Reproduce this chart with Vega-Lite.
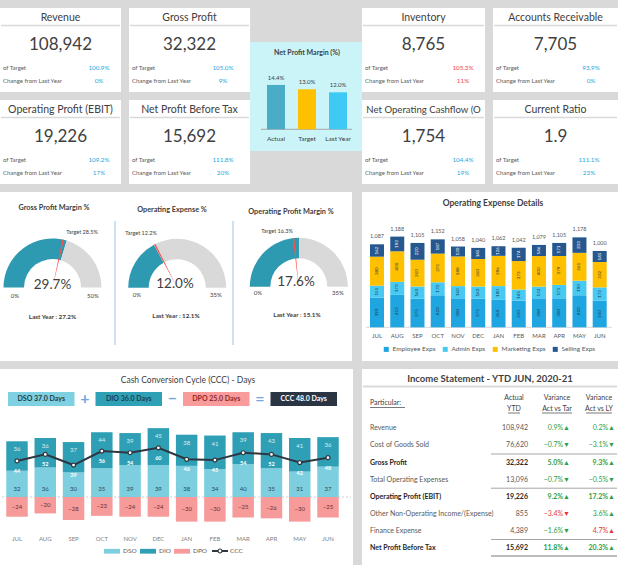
{
  "$schema": "https://vega.github.io/schema/vega-lite/v6.json",
  "background": "#d9d9d9",
  "padding": {"left": 0, "top": 8, "right": 0, "bottom": 0},
  "spacing": 8,
  "config": {
    "font": "Lato",
    "view": {"stroke": null, "fill": "white"},
    "text": {"font": "Lato", "color": "#404040", "baseline": "middle"},
    "axis": {"disable": true},
    "legend": {"labelFont": "Lato"}
  },
  "datasets": {
    "kpis": [
      {"kpi": "Revenue", "value": 108942, "ofTarget": 1.009, "change": 0.0, "targetStatus": "on track", "changeStatus": "on track"},
      {"kpi": "Gross Profit", "value": 32322, "ofTarget": 1.05, "change": 0.09, "targetStatus": "on track", "changeStatus": "on track"},
      {"kpi": "Operating Profit (EBIT)", "value": 19226, "ofTarget": 1.092, "change": 0.17, "targetStatus": "on track", "changeStatus": "on track"},
      {"kpi": "Net Profit Before Tax", "value": 15692, "ofTarget": 1.118, "change": 0.2, "targetStatus": "on track", "changeStatus": "on track"},
      {"kpi": "Inventory", "value": 8765, "ofTarget": 1.053, "change": 0.11, "targetStatus": "off track", "changeStatus": "off track"},
      {"kpi": "Accounts Receivable", "value": 7705, "ofTarget": 0.939, "change": -0.004, "targetStatus": "on track", "changeStatus": "on track"},
      {"kpi": "Net Operating Cashflow (OCF)", "value": 1754, "ofTarget": 1.044, "change": 0.19, "targetStatus": "on track", "changeStatus": "on track"},
      {"kpi": "Current Ratio", "value": 1.9, "ofTarget": 1.111, "change": 0.23, "targetStatus": "on track", "changeStatus": "on track"}
    ]
  },
  "vconcat": [
    {
      "spacing": 0,
      "resolve": {"scale": {"color": "independent"}},
      "hconcat": [
        {
          "spacing": 8,
          "resolve": {"scale": {"color": "independent"}},
          "vconcat": [
            {
              "spacing": 8,
              "resolve": {"scale": {"color": "independent"}},
              "hconcat": [
                {"width": 121, "height": 84, "data": {"name": "kpis"}, "transform": [{"filter": "datum.kpi === 'Revenue'"}], "layer": [
                  {"mark": {"type": "rule", "color": "#d9d9d9", "strokeWidth": 1.5}, "encoding": {"x": {"value": 1}, "x2": {"value": 120}, "y": {"value": 17.5}}},
                  {"mark": {"type": "text", "fontSize": 10.5, "limit": 117, "ellipsis": "\u200b"}, "encoding": {"text": {"field": "kpi", "type": "nominal"}, "y": {"value": 9.5}}},
                  {"mark": {"type": "text", "fontSize": 17}, "encoding": {"text": {"field": "value", "type": "quantitative", "format": ","}, "y": {"value": 37}}},
                  {"mark": {"type": "text", "fontSize": 6, "color": "#595959", "align": "left", "text": "of Target"}, "encoding": {"x": {"value": 3}, "y": {"value": 60}}},
                  {"mark": {"type": "text", "fontSize": 6, "color": "#595959", "align": "left", "text": "Change from Last Year"}, "encoding": {"x": {"value": 3}, "y": {"value": 73}}},
                  {"mark": {"type": "text", "fontSize": 6.3}, "encoding": {"text": {"field": "ofTarget", "type": "quantitative", "format": ".1%"}, "x": {"value": 99}, "y": {"value": 60}, "color": {"field": "targetStatus", "type": "nominal", "scale": {"domain": ["on track", "off track"], "range": ["#1aa9e0", "#f0454a"]}, "legend": null}}},
                  {"mark": {"type": "text", "fontSize": 6.3}, "encoding": {"text": {"field": "change", "type": "quantitative", "format": ".0%"}, "x": {"value": 99}, "y": {"value": 73}, "color": {"field": "changeStatus", "type": "nominal", "scale": {"domain": ["on track", "off track"], "range": ["#1aa9e0", "#f0454a"]}, "legend": null}}}
                ]},
                {"width": 121, "height": 84, "data": {"name": "kpis"}, "transform": [{"filter": "datum.kpi === 'Gross Profit'"}], "layer": [
                  {"mark": {"type": "rule", "color": "#d9d9d9", "strokeWidth": 1.5}, "encoding": {"x": {"value": 1}, "x2": {"value": 120}, "y": {"value": 17.5}}},
                  {"mark": {"type": "text", "fontSize": 10.5, "limit": 117, "ellipsis": "\u200b"}, "encoding": {"text": {"field": "kpi", "type": "nominal"}, "y": {"value": 9.5}}},
                  {"mark": {"type": "text", "fontSize": 17}, "encoding": {"text": {"field": "value", "type": "quantitative", "format": ","}, "y": {"value": 37}}},
                  {"mark": {"type": "text", "fontSize": 6, "color": "#595959", "align": "left", "text": "of Target"}, "encoding": {"x": {"value": 3}, "y": {"value": 60}}},
                  {"mark": {"type": "text", "fontSize": 6, "color": "#595959", "align": "left", "text": "Change from Last Year"}, "encoding": {"x": {"value": 3}, "y": {"value": 73}}},
                  {"mark": {"type": "text", "fontSize": 6.3}, "encoding": {"text": {"field": "ofTarget", "type": "quantitative", "format": ".1%"}, "x": {"value": 94}, "y": {"value": 60}, "color": {"field": "targetStatus", "type": "nominal", "scale": {"domain": ["on track", "off track"], "range": ["#1aa9e0", "#f0454a"]}, "legend": null}}},
                  {"mark": {"type": "text", "fontSize": 6.3}, "encoding": {"text": {"field": "change", "type": "quantitative", "format": ".0%"}, "x": {"value": 94}, "y": {"value": 73}, "color": {"field": "changeStatus", "type": "nominal", "scale": {"domain": ["on track", "off track"], "range": ["#1aa9e0", "#f0454a"]}, "legend": null}}}
                ]}
              ]
            },
            {
              "spacing": 8,
              "resolve": {"scale": {"color": "independent"}},
              "hconcat": [
                {"width": 121, "height": 84, "data": {"name": "kpis"}, "transform": [{"filter": "datum.kpi === 'Operating Profit (EBIT)'"}], "layer": [
                  {"mark": {"type": "rule", "color": "#d9d9d9", "strokeWidth": 1.5}, "encoding": {"x": {"value": 1}, "x2": {"value": 120}, "y": {"value": 17.5}}},
                  {"mark": {"type": "text", "fontSize": 10.5, "limit": 117, "ellipsis": "\u200b"}, "encoding": {"text": {"field": "kpi", "type": "nominal"}, "y": {"value": 9.5}}},
                  {"mark": {"type": "text", "fontSize": 17}, "encoding": {"text": {"field": "value", "type": "quantitative", "format": ","}, "y": {"value": 37}}},
                  {"mark": {"type": "text", "fontSize": 6, "color": "#595959", "align": "left", "text": "of Target"}, "encoding": {"x": {"value": 3}, "y": {"value": 60}}},
                  {"mark": {"type": "text", "fontSize": 6, "color": "#595959", "align": "left", "text": "Change from Last Year"}, "encoding": {"x": {"value": 3}, "y": {"value": 73}}},
                  {"mark": {"type": "text", "fontSize": 6.3}, "encoding": {"text": {"field": "ofTarget", "type": "quantitative", "format": ".1%"}, "x": {"value": 99}, "y": {"value": 60}, "color": {"field": "targetStatus", "type": "nominal", "scale": {"domain": ["on track", "off track"], "range": ["#1aa9e0", "#f0454a"]}, "legend": null}}},
                  {"mark": {"type": "text", "fontSize": 6.3}, "encoding": {"text": {"field": "change", "type": "quantitative", "format": ".0%"}, "x": {"value": 99}, "y": {"value": 73}, "color": {"field": "changeStatus", "type": "nominal", "scale": {"domain": ["on track", "off track"], "range": ["#1aa9e0", "#f0454a"]}, "legend": null}}}
                ]},
                {"width": 121, "height": 84, "data": {"name": "kpis"}, "transform": [{"filter": "datum.kpi === 'Net Profit Before Tax'"}], "layer": [
                  {"mark": {"type": "rule", "color": "#d9d9d9", "strokeWidth": 1.5}, "encoding": {"x": {"value": 1}, "x2": {"value": 120}, "y": {"value": 17.5}}},
                  {"mark": {"type": "text", "fontSize": 10.5, "limit": 117, "ellipsis": "\u200b"}, "encoding": {"text": {"field": "kpi", "type": "nominal"}, "y": {"value": 9.5}}},
                  {"mark": {"type": "text", "fontSize": 17}, "encoding": {"text": {"field": "value", "type": "quantitative", "format": ","}, "y": {"value": 37}}},
                  {"mark": {"type": "text", "fontSize": 6, "color": "#595959", "align": "left", "text": "of Target"}, "encoding": {"x": {"value": 3}, "y": {"value": 60}}},
                  {"mark": {"type": "text", "fontSize": 6, "color": "#595959", "align": "left", "text": "Change from Last Year"}, "encoding": {"x": {"value": 3}, "y": {"value": 73}}},
                  {"mark": {"type": "text", "fontSize": 6.3}, "encoding": {"text": {"field": "ofTarget", "type": "quantitative", "format": ".1%"}, "x": {"value": 94}, "y": {"value": 60}, "color": {"field": "targetStatus", "type": "nominal", "scale": {"domain": ["on track", "off track"], "range": ["#1aa9e0", "#f0454a"]}, "legend": null}}},
                  {"mark": {"type": "text", "fontSize": 6.3}, "encoding": {"text": {"field": "change", "type": "quantitative", "format": ".0%"}, "x": {"value": 94}, "y": {"value": 73}, "color": {"field": "changeStatus", "type": "nominal", "scale": {"domain": ["on track", "off track"], "range": ["#1aa9e0", "#f0454a"]}, "legend": null}}}
                ]}
              ]
            }
          ]
        },
        {
          "width": 112,
          "height": 176,
          "view": {"fill": "transparent"},
          "data": {"values": [
            {"measure": "Actual", "margin": 0.144},
            {"measure": "Target", "margin": 0.13},
            {"measure": "Last Year", "margin": 0.12}
          ]},
          "layer": [
            {
              "data": {"values": [{"chart": "Net Profit Margin (%)"}]},
              "layer": [
                {"mark": {"type": "rect", "color": "#cbf4f8"}, "encoding": {"y": {"datum": 0.2834, "type": "quantitative", "scale": {"domain": [-0.1776, 0.3938], "nice": false, "zero": false}}, "y2": {"datum": -0.0705}}},
                {"mark": {"type": "text", "fontSize": 7, "fontWeight": "bold"}, "encoding": {"text": {"field": "chart"}, "x": {"datum": "Target", "type": "nominal", "scale": {"type": "point", "domain": ["Actual", "Target", "Last Year"], "range": [26, 88], "padding": 0}}, "y": {"datum": 0.2468, "type": "quantitative", "scale": {"domain": [-0.1776, 0.3938], "nice": false, "zero": false}}}},
                {"mark": {"type": "rule", "color": "#a6a6a6", "xOffset": -15, "x2Offset": 14}, "encoding": {"x": {"datum": "Actual", "type": "nominal", "scale": {"type": "point", "domain": ["Actual", "Target", "Last Year"], "range": [26, 88], "padding": 0}}, "x2": {"datum": "Last Year"}, "y": {"datum": 0, "type": "quantitative", "scale": {"domain": [-0.1776, 0.3938], "nice": false, "zero": false}}}}
              ]
            },
            {"mark": {"type": "bar", "width": 18}, "encoding": {
              "x": {"field": "measure", "type": "nominal", "scale": {"type": "point", "domain": ["Actual", "Target", "Last Year"], "range": [26, 88], "padding": 0}},
              "y": {"field": "margin", "type": "quantitative", "scale": {"domain": [-0.1776, 0.3938], "nice": false, "zero": false}},
              "color": {"field": "measure", "type": "nominal", "scale": {"domain": ["Actual", "Target", "Last Year"], "range": ["#4aacc5", "#ffc000", "#3fc9f5"]}, "legend": null}
            }},
            {"mark": {"type": "text", "fontSize": 6, "dy": -7}, "encoding": {
              "x": {"field": "measure", "type": "nominal", "scale": {"type": "point", "domain": ["Actual", "Target", "Last Year"], "range": [26, 88], "padding": 0}},
              "y": {"field": "margin", "type": "quantitative", "scale": {"domain": [-0.1776, 0.3938], "nice": false, "zero": false}},
              "text": {"field": "margin", "type": "quantitative", "format": ".1%"}
            }},
            {"mark": {"type": "text", "fontSize": 6.5}, "encoding": {
              "x": {"field": "measure", "type": "nominal", "scale": {"type": "point", "domain": ["Actual", "Target", "Last Year"], "range": [26, 88], "padding": 0}},
              "y": {"datum": -0.0315, "type": "quantitative", "scale": {"domain": [-0.1776, 0.3938], "nice": false, "zero": false}},
              "text": {"field": "measure", "type": "nominal"}
            }}
          ]
        },
        {
          "spacing": 8,
          "resolve": {"scale": {"color": "independent"}},
          "vconcat": [
            {
              "spacing": 8,
              "resolve": {"scale": {"color": "independent"}},
              "hconcat": [
                {"width": 123, "height": 84, "data": {"name": "kpis"}, "transform": [{"filter": "datum.kpi === 'Inventory'"}], "layer": [
                  {"mark": {"type": "rule", "color": "#d9d9d9", "strokeWidth": 1.5}, "encoding": {"x": {"value": 1}, "x2": {"value": 122}, "y": {"value": 17.5}}},
                  {"mark": {"type": "text", "fontSize": 10.5, "limit": 119, "ellipsis": "\u200b"}, "encoding": {"text": {"field": "kpi", "type": "nominal"}, "y": {"value": 9.5}}},
                  {"mark": {"type": "text", "fontSize": 17}, "encoding": {"text": {"field": "value", "type": "quantitative", "format": ","}, "y": {"value": 37}}},
                  {"mark": {"type": "text", "fontSize": 6, "color": "#595959", "align": "left", "text": "of Target"}, "encoding": {"x": {"value": 3}, "y": {"value": 60}}},
                  {"mark": {"type": "text", "fontSize": 6, "color": "#595959", "align": "left", "text": "Change from Last Year"}, "encoding": {"x": {"value": 3}, "y": {"value": 73}}},
                  {"mark": {"type": "text", "fontSize": 6.3}, "encoding": {"text": {"field": "ofTarget", "type": "quantitative", "format": ".1%"}, "x": {"value": 101}, "y": {"value": 60}, "color": {"field": "targetStatus", "type": "nominal", "scale": {"domain": ["on track", "off track"], "range": ["#1aa9e0", "#f0454a"]}, "legend": null}}},
                  {"mark": {"type": "text", "fontSize": 6.3}, "encoding": {"text": {"field": "change", "type": "quantitative", "format": ".0%"}, "x": {"value": 101}, "y": {"value": 73}, "color": {"field": "changeStatus", "type": "nominal", "scale": {"domain": ["on track", "off track"], "range": ["#1aa9e0", "#f0454a"]}, "legend": null}}}
                ]},
                {"width": 125, "height": 84, "data": {"name": "kpis"}, "transform": [{"filter": "datum.kpi === 'Accounts Receivable'"}], "layer": [
                  {"mark": {"type": "rule", "color": "#d9d9d9", "strokeWidth": 1.5}, "encoding": {"x": {"value": 1}, "x2": {"value": 124}, "y": {"value": 17.5}}},
                  {"mark": {"type": "text", "fontSize": 10.5, "limit": 121, "ellipsis": "\u200b"}, "encoding": {"text": {"field": "kpi", "type": "nominal"}, "y": {"value": 9.5}}},
                  {"mark": {"type": "text", "fontSize": 17}, "encoding": {"text": {"field": "value", "type": "quantitative", "format": ","}, "y": {"value": 37}}},
                  {"mark": {"type": "text", "fontSize": 6, "color": "#595959", "align": "left", "text": "of Target"}, "encoding": {"x": {"value": 3}, "y": {"value": 60}}},
                  {"mark": {"type": "text", "fontSize": 6, "color": "#595959", "align": "left", "text": "Change from Last Year"}, "encoding": {"x": {"value": 3}, "y": {"value": 73}}},
                  {"mark": {"type": "text", "fontSize": 6.3}, "encoding": {"text": {"field": "ofTarget", "type": "quantitative", "format": ".1%"}, "x": {"value": 98}, "y": {"value": 60}, "color": {"field": "targetStatus", "type": "nominal", "scale": {"domain": ["on track", "off track"], "range": ["#1aa9e0", "#f0454a"]}, "legend": null}}},
                  {"mark": {"type": "text", "fontSize": 6.3}, "encoding": {"text": {"field": "change", "type": "quantitative", "format": ".0%"}, "x": {"value": 98}, "y": {"value": 73}, "color": {"field": "changeStatus", "type": "nominal", "scale": {"domain": ["on track", "off track"], "range": ["#1aa9e0", "#f0454a"]}, "legend": null}}}
                ]}
              ]
            },
            {
              "spacing": 8,
              "resolve": {"scale": {"color": "independent"}},
              "hconcat": [
                {"width": 123, "height": 84, "data": {"name": "kpis"}, "transform": [{"filter": "datum.kpi === 'Net Operating Cashflow (OCF)'"}], "layer": [
                  {"mark": {"type": "rule", "color": "#d9d9d9", "strokeWidth": 1.5}, "encoding": {"x": {"value": 1}, "x2": {"value": 122}, "y": {"value": 17.5}}},
                  {"mark": {"type": "text", "fontSize": 9.6, "limit": 121, "ellipsis": "\u200b"}, "encoding": {"text": {"field": "kpi", "type": "nominal"}, "y": {"value": 9.5}}},
                  {"mark": {"type": "text", "fontSize": 17}, "encoding": {"text": {"field": "value", "type": "quantitative", "format": ","}, "y": {"value": 37}}},
                  {"mark": {"type": "text", "fontSize": 6, "color": "#595959", "align": "left", "text": "of Target"}, "encoding": {"x": {"value": 3}, "y": {"value": 60}}},
                  {"mark": {"type": "text", "fontSize": 6, "color": "#595959", "align": "left", "text": "Change from Last Year"}, "encoding": {"x": {"value": 3}, "y": {"value": 73}}},
                  {"mark": {"type": "text", "fontSize": 6.3}, "encoding": {"text": {"field": "ofTarget", "type": "quantitative", "format": ".1%"}, "x": {"value": 101}, "y": {"value": 60}, "color": {"field": "targetStatus", "type": "nominal", "scale": {"domain": ["on track", "off track"], "range": ["#1aa9e0", "#f0454a"]}, "legend": null}}},
                  {"mark": {"type": "text", "fontSize": 6.3}, "encoding": {"text": {"field": "change", "type": "quantitative", "format": ".0%"}, "x": {"value": 101}, "y": {"value": 73}, "color": {"field": "changeStatus", "type": "nominal", "scale": {"domain": ["on track", "off track"], "range": ["#1aa9e0", "#f0454a"]}, "legend": null}}}
                ]},
                {"width": 125, "height": 84, "data": {"name": "kpis"}, "transform": [{"filter": "datum.kpi === 'Current Ratio'"}], "layer": [
                  {"mark": {"type": "rule", "color": "#d9d9d9", "strokeWidth": 1.5}, "encoding": {"x": {"value": 1}, "x2": {"value": 124}, "y": {"value": 17.5}}},
                  {"mark": {"type": "text", "fontSize": 10.5, "limit": 121, "ellipsis": "\u200b"}, "encoding": {"text": {"field": "kpi", "type": "nominal"}, "y": {"value": 9.5}}},
                  {"mark": {"type": "text", "fontSize": 17}, "encoding": {"text": {"field": "value", "type": "quantitative", "format": ","}, "y": {"value": 37}}},
                  {"mark": {"type": "text", "fontSize": 6, "color": "#595959", "align": "left", "text": "of Target"}, "encoding": {"x": {"value": 3}, "y": {"value": 60}}},
                  {"mark": {"type": "text", "fontSize": 6, "color": "#595959", "align": "left", "text": "Change from Last Year"}, "encoding": {"x": {"value": 3}, "y": {"value": 73}}},
                  {"mark": {"type": "text", "fontSize": 6.3}, "encoding": {"text": {"field": "ofTarget", "type": "quantitative", "format": ".1%"}, "x": {"value": 96}, "y": {"value": 60}, "color": {"field": "targetStatus", "type": "nominal", "scale": {"domain": ["on track", "off track"], "range": ["#1aa9e0", "#f0454a"]}, "legend": null}}},
                  {"mark": {"type": "text", "fontSize": 6.3}, "encoding": {"text": {"field": "change", "type": "quantitative", "format": ".0%"}, "x": {"value": 96}, "y": {"value": 73}, "color": {"field": "changeStatus", "type": "nominal", "scale": {"domain": ["on track", "off track"], "range": ["#1aa9e0", "#f0454a"]}, "legend": null}}}
                ]}
              ]
            }
          ]
        }
      ]
    },
    {
      "spacing": 10,
      "resolve": {"scale": {"color": "independent", "fill": "independent"}},
      "hconcat": [
        {
          "spacing": 0,
          "resolve": {"scale": {"color": "independent", "fill": "independent"}},
          "hconcat": [
            {
              "width": 117,
              "height": 169,
              "data": {"values": [{"metric": "Gross Profit Margin %", "actual": 0.297, "target": 0.285, "lastYear": 0.272, "max": 0.5}]},
              "layer": [
                {
                  "data": {"values": [{"part": "actual", "share": 0.297}, {"part": "remaining", "share": 0.203}]},
                  "mark": {"type": "arc", "x": 52.5, "y": 95.5, "innerRadius": 28.5, "outerRadius": 49},
                  "encoding": {
                    "theta": {"field": "share", "type": "quantitative", "stack": "zero", "scale": {"domain": [0, 0.5], "range": [-1.5708, 1.5708]}},
                    "color": {"field": "part", "type": "nominal", "scale": {"domain": ["actual", "remaining"], "range": ["#2e9ab2", "#d9d9d9"]}, "legend": null},
                    "order": {"field": "part", "type": "nominal", "sort": "ascending"}
                  }
                },
                {
                  "data": {"values": [{"part": "lead", "share": 0.2825}, {"part": "needle", "share": 0.005}, {"part": "tail", "share": 0.2125}]},
                  "mark": {"type": "arc", "x": 52.5, "y": 95.5, "innerRadius": 0, "outerRadius": 49},
                  "encoding": {
                    "theta": {"field": "share", "type": "quantitative", "stack": "zero", "scale": {"domain": [0, 0.5], "range": [-1.5708, 1.5708]}},
                    "fill": {"field": "part", "type": "nominal", "scale": {"domain": ["lead", "needle", "tail"], "range": ["transparent", "#ff5050", "transparent"]}, "legend": null},
                    "order": {"field": "part", "type": "nominal", "sort": "ascending"}
                  }
                },
                {"mark": {"type": "text", "fontSize": 7.3, "fontWeight": "bold"}, "encoding": {"text": {"field": "metric"}, "x": {"value": 54}, "y": {"value": 16}}},
                {"mark": {"type": "text", "fontSize": 13.5}, "encoding": {"text": {"field": "actual", "type": "quantitative", "format": ".1%"}, "x": {"value": 52.5}, "y": {"value": 93}}},
                {"mark": {"type": "text", "fontSize": 6, "text": "0%"}, "encoding": {"x": {"value": 15}, "y": {"value": 104}}},
                {"mark": {"type": "text", "fontSize": 6}, "encoding": {"text": {"field": "max", "type": "quantitative", "format": ".0%"}, "x": {"value": 93}, "y": {"value": 104}}},
                {"mark": {"type": "text", "fontSize": 5.5, "text": {"expr": "'Target ' + format(datum.target, '.1%')"}}, "encoding": {"x": {"value": 82}, "y": {"value": 40}}},
                {"mark": {"type": "text", "fontSize": 6.3, "fontWeight": "bold", "text": {"expr": "'Last Year : ' + format(datum.lastYear, '.1%')"}}, "encoding": {"x": {"value": 52.5}, "y": {"value": 125}}},
                {"mark": {"type": "rule", "color": "#9dc3e6"}, "encoding": {"x": {"value": 115}, "y": {"value": 29}, "y2": {"value": 153}}}
              ]
            },
            {
              "width": 118,
              "height": 169,
              "data": {"values": [{"metric": "Operating Expense %", "actual": 0.12, "target": 0.122, "lastYear": 0.121, "max": 0.35}]},
              "layer": [
                {
                  "data": {"values": [{"part": "actual", "share": 0.12}, {"part": "remaining", "share": 0.23}]},
                  "mark": {"type": "arc", "x": 60.2, "y": 95.8, "innerRadius": 28.5, "outerRadius": 49},
                  "encoding": {
                    "theta": {"field": "share", "type": "quantitative", "stack": "zero", "scale": {"domain": [0, 0.35], "range": [-1.5708, 1.5708]}},
                    "color": {"field": "part", "type": "nominal", "scale": {"domain": ["actual", "remaining"], "range": ["#2e9ab2", "#d9d9d9"]}, "legend": null},
                    "order": {"field": "part", "type": "nominal", "sort": "ascending"}
                  }
                },
                {
                  "data": {"values": [{"part": "lead", "share": 0.12025}, {"part": "needle", "share": 0.0035}, {"part": "tail", "share": 0.22625}]},
                  "mark": {"type": "arc", "x": 60.2, "y": 95.8, "innerRadius": 0, "outerRadius": 49},
                  "encoding": {
                    "theta": {"field": "share", "type": "quantitative", "stack": "zero", "scale": {"domain": [0, 0.35], "range": [-1.5708, 1.5708]}},
                    "fill": {"field": "part", "type": "nominal", "scale": {"domain": ["lead", "needle", "tail"], "range": ["transparent", "#ff5050", "transparent"]}, "legend": null},
                    "order": {"field": "part", "type": "nominal", "sort": "ascending"}
                  }
                },
                {"mark": {"type": "text", "fontSize": 7.3, "fontWeight": "bold"}, "encoding": {"text": {"field": "metric"}, "x": {"value": 55}, "y": {"value": 18}}},
                {"mark": {"type": "text", "fontSize": 13.5}, "encoding": {"text": {"field": "actual", "type": "quantitative", "format": ".1%"}, "x": {"value": 58}, "y": {"value": 92}}},
                {"mark": {"type": "text", "fontSize": 6, "text": "0%"}, "encoding": {"x": {"value": 20}, "y": {"value": 103}}},
                {"mark": {"type": "text", "fontSize": 6}, "encoding": {"text": {"field": "max", "type": "quantitative", "format": ".0%"}, "x": {"value": 99}, "y": {"value": 103}}},
                {"mark": {"type": "text", "fontSize": 5.5, "text": {"expr": "'Target ' + format(datum.target, '.1%')"}}, "encoding": {"x": {"value": 24}, "y": {"value": 41}}},
                {"mark": {"type": "text", "fontSize": 6.3, "fontWeight": "bold", "text": {"expr": "'Last Year : ' + format(datum.lastYear, '.1%')"}}, "encoding": {"x": {"value": 59}, "y": {"value": 124}}},
                {"mark": {"type": "rule", "color": "#9dc3e6"}, "encoding": {"x": {"value": 116}, "y": {"value": 29}, "y2": {"value": 153}}}
              ]
            },
            {
              "width": 117,
              "height": 169,
              "data": {"values": [{"metric": "Operating Profit Margin %", "actual": 0.176, "target": 0.163, "lastYear": 0.151, "max": 0.35}]},
              "layer": [
                {
                  "data": {"values": [{"part": "actual", "share": 0.176}, {"part": "remaining", "share": 0.174}]},
                  "mark": {"type": "arc", "x": 63.8, "y": 94.8, "innerRadius": 28.5, "outerRadius": 49},
                  "encoding": {
                    "theta": {"field": "share", "type": "quantitative", "stack": "zero", "scale": {"domain": [0, 0.35], "range": [-1.5708, 1.5708]}},
                    "color": {"field": "part", "type": "nominal", "scale": {"domain": ["actual", "remaining"], "range": ["#2e9ab2", "#d9d9d9"]}, "legend": null},
                    "order": {"field": "part", "type": "nominal", "sort": "ascending"}
                  }
                },
                {
                  "data": {"values": [{"part": "lead", "share": 0.16125}, {"part": "needle", "share": 0.0035}, {"part": "tail", "share": 0.18525}]},
                  "mark": {"type": "arc", "x": 63.8, "y": 94.8, "innerRadius": 0, "outerRadius": 49},
                  "encoding": {
                    "theta": {"field": "share", "type": "quantitative", "stack": "zero", "scale": {"domain": [0, 0.35], "range": [-1.5708, 1.5708]}},
                    "fill": {"field": "part", "type": "nominal", "scale": {"domain": ["lead", "needle", "tail"], "range": ["transparent", "#ff5050", "transparent"]}, "legend": null},
                    "order": {"field": "part", "type": "nominal", "sort": "ascending"}
                  }
                },
                {"mark": {"type": "text", "fontSize": 7.3, "fontWeight": "bold"}, "encoding": {"text": {"field": "metric"}, "x": {"value": 56}, "y": {"value": 20}}},
                {"mark": {"type": "text", "fontSize": 13.5}, "encoding": {"text": {"field": "actual", "type": "quantitative", "format": ".1%"}, "x": {"value": 61}, "y": {"value": 90}}},
                {"mark": {"type": "text", "fontSize": 6, "text": "0%"}, "encoding": {"x": {"value": 23}, "y": {"value": 101}}},
                {"mark": {"type": "text", "fontSize": 6}, "encoding": {"text": {"field": "max", "type": "quantitative", "format": ".0%"}, "x": {"value": 103}, "y": {"value": 101}}},
                {"mark": {"type": "text", "fontSize": 5.5, "text": {"expr": "'Target ' + format(datum.target, '.1%')"}}, "encoding": {"x": {"value": 42}, "y": {"value": 39}}},
                {"mark": {"type": "text", "fontSize": 6.3, "fontWeight": "bold", "text": {"expr": "'Last Year : ' + format(datum.lastYear, '.1%')"}}, "encoding": {"x": {"value": 62}, "y": {"value": 123}}}
              ]
            }
          ]
        },
        {
          "width": 256,
          "height": 169,
          "data": {"values": [
            {"month": "JUL", "Employee Exps": 390, "Admin Exps": 155, "Marketing Exps": 380, "Selling Exps": 162},
            {"month": "AUG", "Employee Exps": 425, "Admin Exps": 170, "Marketing Exps": 400, "Selling Exps": 193},
            {"month": "SEP", "Employee Exps": 375, "Admin Exps": 160, "Marketing Exps": 350, "Selling Exps": 220},
            {"month": "OCT", "Employee Exps": 420, "Admin Exps": 170, "Marketing Exps": 375, "Selling Exps": 187},
            {"month": "NOV", "Employee Exps": 380, "Admin Exps": 160, "Marketing Exps": 388, "Selling Exps": 130},
            {"month": "DEC", "Employee Exps": 375, "Admin Exps": 160, "Marketing Exps": 360, "Selling Exps": 145},
            {"month": "JAN", "Employee Exps": 360, "Admin Exps": 180, "Marketing Exps": 396, "Selling Exps": 126},
            {"month": "FEB", "Employee Exps": 350, "Admin Exps": 145, "Marketing Exps": 373, "Selling Exps": 174},
            {"month": "MAR", "Employee Exps": 380, "Admin Exps": 153, "Marketing Exps": 400, "Selling Exps": 146},
            {"month": "APR", "Employee Exps": 380, "Admin Exps": 175, "Marketing Exps": 379, "Selling Exps": 171},
            {"month": "MAY", "Employee Exps": 420, "Admin Exps": 190, "Marketing Exps": 365, "Selling Exps": 203},
            {"month": "JUN", "Employee Exps": 350, "Admin Exps": 173, "Marketing Exps": 332, "Selling Exps": 145}
          ]},
          "layer": [
            {
              "data": {"values": [{"chart": "Operating Expense Details"}]},
              "layer": [
                {"mark": {"type": "rule", "color": "#d9d9d9"}, "encoding": {"x": {"value": 4}, "x2": {"value": 250}, "y": {"datum": 0, "type": "quantitative", "scale": {"domain": [-441, 1772], "nice": false, "zero": false}}}},
                {"mark": {"type": "text", "fontSize": 8.5, "fontWeight": "bold"}, "encoding": {"text": {"field": "chart"}, "x": {"value": 131}, "y": {"datum": 1628, "type": "quantitative", "scale": {"domain": [-441, 1772], "nice": false, "zero": false}}}}
              ]
            },
            {
              "transform": [
                {"fold": ["Employee Exps", "Admin Exps", "Marketing Exps", "Selling Exps"], "as": ["expense", "amount"]},
                {"window": [{"op": "row_number", "as": "rank"}], "groupby": ["month"]}
              ],
              "mark": {"type": "bar", "width": 14},
              "encoding": {
                "x": {"field": "month", "type": "nominal", "scale": {"type": "point", "domain": ["JUL", "AUG", "SEP", "OCT", "NOV", "DEC", "JAN", "FEB", "MAR", "APR", "MAY", "JUN"], "range": [15, 237.7], "padding": 0}},
                "y": {"field": "amount", "type": "quantitative", "stack": "zero", "scale": {"domain": [-441, 1772], "nice": false, "zero": false}},
                "color": {"field": "expense", "type": "nominal", "scale": {"domain": ["Employee Exps", "Admin Exps", "Marketing Exps", "Selling Exps"], "range": ["#1fa5e0", "#48c9f2", "#ffc000", "#26588f"]},
                  "legend": {"title": null, "orient": "none", "legendX": 21, "legendY": 154, "direction": "horizontal", "symbolType": "square", "symbolSize": 25, "symbolStrokeWidth": 0, "labelFontSize": 6.5, "labelColor": "#595959", "labelOffset": 3, "columnPadding": 6, "padding": 0}},
                "order": {"field": "rank", "type": "quantitative"}
              }
            },
            {
              "transform": [
                {"fold": ["Employee Exps", "Admin Exps", "Marketing Exps", "Selling Exps"], "as": ["expense", "amount"]},
                {"window": [{"op": "row_number", "as": "rank"}], "groupby": ["month"]}
              ],
              "mark": {"type": "text", "angle": 270, "fontSize": 4.5},
              "encoding": {
                "x": {"field": "month", "type": "nominal", "scale": {"type": "point", "domain": ["JUL", "AUG", "SEP", "OCT", "NOV", "DEC", "JAN", "FEB", "MAR", "APR", "MAY", "JUN"], "range": [15, 237.7], "padding": 0}},
                "y": {"field": "amount", "type": "quantitative", "stack": "zero", "bandPosition": 0.5, "scale": {"domain": [-441, 1772], "nice": false, "zero": false}},
                "detail": {"field": "expense", "type": "nominal"},
                "order": {"field": "rank", "type": "quantitative"},
                "text": {"field": "amount", "type": "quantitative"},
                "color": {"condition": {"test": "datum.expense === 'Selling Exps'", "value": "#ffffff"}, "value": "#1e3550"}
              }
            },
            {
              "transform": [
                {"fold": ["Employee Exps", "Admin Exps", "Marketing Exps", "Selling Exps"], "as": ["expense", "amount"]}
              ],
              "mark": {"type": "text", "fontSize": 5.5, "color": "#595959", "dy": -8},
              "encoding": {
                "x": {"field": "month", "type": "nominal", "scale": {"type": "point", "domain": ["JUL", "AUG", "SEP", "OCT", "NOV", "DEC", "JAN", "FEB", "MAR", "APR", "MAY", "JUN"], "range": [15, 237.7], "padding": 0}},
                "y": {"aggregate": "sum", "field": "amount", "type": "quantitative", "scale": {"domain": [-441, 1772], "nice": false, "zero": false}},
                "text": {"aggregate": "sum", "field": "amount", "type": "quantitative", "format": ","}
              }
            },
            {
              "mark": {"type": "text", "fontSize": 6, "color": "#595959"},
              "encoding": {
                "x": {"field": "month", "type": "nominal", "scale": {"type": "point", "domain": ["JUL", "AUG", "SEP", "OCT", "NOV", "DEC", "JAN", "FEB", "MAR", "APR", "MAY", "JUN"], "range": [15, 237.7], "padding": 0}},
                "y": {"datum": -114, "type": "quantitative", "scale": {"domain": [-441, 1772], "nice": false, "zero": false}},
                "text": {"field": "month", "type": "nominal"}
              }
            }
          ]
        }
      ]
    },
    {
      "spacing": 9,
      "resolve": {"scale": {"color": "independent", "fill": "independent"}},
      "hconcat": [
        {
          "spacing": 0,
          "resolve": {"scale": {"color": "independent", "fill": "independent"}},
          "vconcat": [
            {
              "width": 353,
              "height": 42,
              "data": {"values": [
                {"metric": "DSO", "days": 37},
                {"metric": "DIO", "days": 36},
                {"metric": "DPO", "days": 25},
                {"metric": "CCC", "days": 48}
              ]},
              "layer": [
                {"data": {"values": [{"chart": "Cash Conversion Cycle (CCC) - Days"}]}, "mark": {"type": "text", "fontSize": 8.5}, "encoding": {"text": {"field": "chart"}, "x": {"value": 188}, "y": {"value": 11}}},
                {"mark": {"type": "rect"}, "encoding": {
                  "x": {"field": "metric", "type": "nominal", "scale": {"type": "band", "domain": ["DSO", "DIO", "DPO", "CCC"], "range": [8, 337], "paddingInner": 0.24, "paddingOuter": 0}},
                  "y": {"value": 23}, "y2": {"value": 37},
                  "fill": {"field": "metric", "type": "nominal", "scale": {"domain": ["DSO", "DIO", "DPO", "CCC"], "range": ["#7fd0e0", "#2fa1b6", "#f99b9b", "#2a3443"]}, "legend": null}
                }},
                {"mark": {"type": "text", "fontSize": 7, "fontWeight": "bold", "text": {"expr": "datum.metric + ' ' + format(datum.days, '.1f') + ' Days'"}}, "encoding": {
                  "x": {"field": "metric", "type": "nominal", "scale": {"type": "band", "domain": ["DSO", "DIO", "DPO", "CCC"], "range": [8, 337], "paddingInner": 0.24, "paddingOuter": 0}},
                  "y": {"value": 30},
                  "color": {"field": "metric", "type": "nominal", "scale": {"domain": ["DSO", "DIO", "DPO", "CCC"], "range": ["#1f3d4d", "#1f3d4d", "#8e2a2a", "#ffffff"]}, "legend": null}
                }},
                {
                  "data": {"values": [
                    {"after": "DSO", "sign": "+"},
                    {"after": "DIO", "sign": "−"},
                    {"after": "DPO", "sign": "="}
                  ]},
                  "mark": {"type": "text", "fontSize": 16, "fontWeight": "bold", "color": "#6fa8dc"},
                  "encoding": {
                    "x": {"field": "after", "type": "nominal", "bandPosition": 1.158, "scale": {"type": "band", "domain": ["DSO", "DIO", "DPO", "CCC"], "range": [8, 337], "paddingInner": 0.24, "paddingOuter": 0}},
                    "y": {"value": 30},
                    "text": {"field": "sign", "type": "nominal"}
                  }
                }
              ]
            },
            {
              "width": 353,
              "height": 154,
              "data": {"values": [
                {"month": "JUL", "DSO": 32, "DIO": 36, "DPO": -24, "CCC": 44},
                {"month": "AUG", "DSO": 36, "DIO": 36, "DPO": -20, "CCC": 52},
                {"month": "SEP", "DSO": 30, "DIO": 37, "DPO": -28, "CCC": 39},
                {"month": "OCT", "DSO": 35, "DIO": 44, "DPO": -23, "CCC": 56},
                {"month": "NOV", "DSO": 39, "DIO": 39, "DPO": -24, "CCC": 54},
                {"month": "DEC", "DSO": 39, "DIO": 45, "DPO": -24, "CCC": 60},
                {"month": "JAN", "DSO": 38, "DIO": 38, "DPO": -30, "CCC": 46},
                {"month": "FEB", "DSO": 34, "DIO": 41, "DPO": -30, "CCC": 45},
                {"month": "MAR", "DSO": 40, "DIO": 39, "DPO": -25, "CCC": 54},
                {"month": "APR", "DSO": 35, "DIO": 43, "DPO": -26, "CCC": 52},
                {"month": "MAY", "DSO": 31, "DIO": 41, "DPO": -30, "CCC": 42},
                {"month": "JUN", "DSO": 37, "DIO": 36, "DPO": -25, "CCC": 48}
              ]},
              "layer": [
                {"data": {"values": [{"baseline": 0}]}, "mark": {"type": "rule", "color": "#cfcfcf", "strokeDash": [2, 2]}, "encoding": {"x": {"value": 2}, "x2": {"value": 351}, "y": {"field": "baseline", "type": "quantitative", "scale": {"domain": [-82.9, 104.9], "nice": false, "zero": false}}}},
                {
                  "transform": [{"fold": ["DSO", "DIO", "DPO"], "as": ["part", "days"]}],
                  "mark": {"type": "bar", "width": 21.5},
                  "encoding": {
                    "x": {"field": "month", "type": "nominal", "scale": {"type": "point", "domain": ["JUL", "AUG", "SEP", "OCT", "NOV", "DEC", "JAN", "FEB", "MAR", "APR", "MAY", "JUN"], "range": [17, 328], "padding": 0}},
                    "y": {"field": "days", "type": "quantitative", "stack": "zero", "scale": {"domain": [-82.9, 104.9], "nice": false, "zero": false}},
                    "color": {"field": "part", "type": "nominal", "scale": {"domain": ["DSO", "DIO", "DPO"], "range": ["#7dcfe0", "#2f9fb5", "#f79a9a"]},
                      "legend": {"title": null, "orient": "none", "legendX": 104, "legendY": 132, "direction": "horizontal", "symbolType": "M-1,-0.3H1V0.3H-1Z", "symbolSize": 256, "symbolStrokeWidth": 0, "labelFontSize": 6.5, "labelColor": "#595959", "labelOffset": 3, "columnPadding": 3, "padding": 0}},
                    "order": {"field": "part", "type": "nominal", "sort": "descending"}
                  }
                },
                {
                  "mark": {"type": "text", "fontSize": 6, "color": "#2b4a5a", "dy": -8},
                  "encoding": {
                    "x": {"field": "month", "type": "nominal", "scale": {"type": "point", "domain": ["JUL", "AUG", "SEP", "OCT", "NOV", "DEC", "JAN", "FEB", "MAR", "APR", "MAY", "JUN"], "range": [17, 328], "padding": 0}},
                    "y": {"datum": 0, "type": "quantitative", "scale": {"domain": [-82.9, 104.9], "nice": false, "zero": false}},
                    "text": {"field": "DSO", "type": "quantitative"}
                  }
                },
                {
                  "transform": [{"fold": ["DSO", "DIO"], "as": ["part", "days"]}],
                  "mark": {"type": "text", "fontSize": 6, "color": "#d9edf2", "dy": 8},
                  "encoding": {
                    "x": {"field": "month", "type": "nominal", "scale": {"type": "point", "domain": ["JUL", "AUG", "SEP", "OCT", "NOV", "DEC", "JAN", "FEB", "MAR", "APR", "MAY", "JUN"], "range": [17, 328], "padding": 0}},
                    "y": {"field": "days", "type": "quantitative", "stack": "zero", "scale": {"domain": [-82.9, 104.9], "nice": false, "zero": false}},
                    "detail": {"field": "part", "type": "nominal"},
                    "order": {"field": "part", "type": "nominal", "sort": "descending"},
                    "text": {"condition": {"test": "datum.part === 'DIO'", "field": "days", "type": "quantitative"}, "value": ""}
                  }
                },
                {
                  "transform": [{"fold": ["DPO"], "as": ["part", "days"]}],
                  "mark": {"type": "text", "fontSize": 6, "color": "#6b3333"},
                  "encoding": {
                    "x": {"field": "month", "type": "nominal", "scale": {"type": "point", "domain": ["JUL", "AUG", "SEP", "OCT", "NOV", "DEC", "JAN", "FEB", "MAR", "APR", "MAY", "JUN"], "range": [17, 328], "padding": 0}},
                    "y": {"field": "days", "type": "quantitative", "stack": "zero", "bandPosition": 0.5, "scale": {"domain": [-82.9, 104.9], "nice": false, "zero": false}},
                    "detail": {"field": "part", "type": "nominal"},
                    "text": {"field": "days", "type": "quantitative"}
                  }
                },
                {
                  "mark": {"type": "line", "strokeWidth": 2, "color": "#2f3640"},
                  "encoding": {
                    "x": {"field": "month", "type": "nominal", "scale": {"type": "point", "domain": ["JUL", "AUG", "SEP", "OCT", "NOV", "DEC", "JAN", "FEB", "MAR", "APR", "MAY", "JUN"], "range": [17, 328], "padding": 0}},
                    "y": {"field": "CCC", "type": "quantitative", "scale": {"domain": [-82.9, 104.9], "nice": false, "zero": false}}
                  }
                },
                {
                  "mark": {"type": "point", "filled": true, "fill": "#ffffff", "stroke": "#2f3640", "size": 16, "strokeWidth": 1.2, "opacity": 1},
                  "encoding": {
                    "x": {"field": "month", "type": "nominal", "scale": {"type": "point", "domain": ["JUL", "AUG", "SEP", "OCT", "NOV", "DEC", "JAN", "FEB", "MAR", "APR", "MAY", "JUN"], "range": [17, 328], "padding": 0}},
                    "y": {"field": "CCC", "type": "quantitative", "scale": {"domain": [-82.9, 104.9], "nice": false, "zero": false}}
                  }
                },
                {
                  "mark": {"type": "text", "fontSize": 5.5, "fontWeight": "bold", "color": "#ffffff", "dy": 10},
                  "encoding": {
                    "x": {"field": "month", "type": "nominal", "scale": {"type": "point", "domain": ["JUL", "AUG", "SEP", "OCT", "NOV", "DEC", "JAN", "FEB", "MAR", "APR", "MAY", "JUN"], "range": [17, 328], "padding": 0}},
                    "y": {"field": "CCC", "type": "quantitative", "scale": {"domain": [-82.9, 104.9], "nice": false, "zero": false}},
                    "text": {"field": "CCC", "type": "quantitative"}
                  }
                },
                {
                  "mark": {"type": "text", "fontSize": 6, "color": "#7f7f7f"},
                  "encoding": {
                    "x": {"field": "month", "type": "nominal", "scale": {"type": "point", "domain": ["JUL", "AUG", "SEP", "OCT", "NOV", "DEC", "JAN", "FEB", "MAR", "APR", "MAY", "JUN"], "range": [17, 328], "padding": 0}},
                    "y": {"datum": -51.2, "type": "quantitative", "scale": {"domain": [-82.9, 104.9], "nice": false, "zero": false}},
                    "text": {"field": "month", "type": "nominal"}
                  }
                },
                {
                  "data": {"values": [{"series": "CCC"}]},
                  "layer": [
                    {"mark": {"type": "rule", "color": "#2f3640", "strokeWidth": 2}, "encoding": {"x": {"value": 212}, "x2": {"value": 228}, "y": {"value": 140}}},
                    {"mark": {"type": "point", "filled": true, "fill": "#ffffff", "stroke": "#2f3640", "size": 16, "strokeWidth": 1.2, "opacity": 1}, "encoding": {"x": {"value": 220}, "y": {"value": 140}}},
                    {"mark": {"type": "text", "fontSize": 6.5, "color": "#595959", "align": "left"}, "encoding": {"text": {"field": "series", "type": "nominal"}, "x": {"value": 230}, "y": {"value": 140}}}
                  ]
                }
              ]
            }
          ]
        },
        {
          "width": 256,
          "height": 196,
          "data": {"values": [
            {"item": "Revenue", "kind": "line", "actual": 108942, "vsTarget": 0.009, "vsLastYear": 0.002, "targetFavourable": true, "lastYearFavourable": true},
            {"item": "Cost of Goods Sold", "kind": "line", "actual": 76620, "vsTarget": -0.007, "vsLastYear": -0.031, "targetFavourable": true, "lastYearFavourable": true},
            {"item": "Gross Profit", "kind": "total", "actual": 32322, "vsTarget": 0.05, "vsLastYear": 0.093, "targetFavourable": true, "lastYearFavourable": true},
            {"item": "Total Operating Expenses", "kind": "line", "actual": 13096, "vsTarget": -0.007, "vsLastYear": -0.005, "targetFavourable": true, "lastYearFavourable": true},
            {"item": "Operating Profit (EBIT)", "kind": "total", "actual": 19226, "vsTarget": 0.092, "vsLastYear": 0.172, "targetFavourable": true, "lastYearFavourable": true},
            {"item": "Other Non-Operating Income/(Expense)", "kind": "line", "actual": 855, "vsTarget": -0.034, "vsLastYear": 0.036, "targetFavourable": false, "lastYearFavourable": true},
            {"item": "Finance Expense", "kind": "line", "actual": 4389, "vsTarget": -0.016, "vsLastYear": 0.047, "targetFavourable": true, "lastYearFavourable": false},
            {"item": "Net Profit Before Tax", "kind": "total", "actual": 15692, "vsTarget": 0.118, "vsLastYear": 0.203, "targetFavourable": true, "lastYearFavourable": true}
          ]},
          "layer": [
            {
              "data": {"values": [{"chart": "Income Statement - YTD JUN, 2020-21"}]},
              "layer": [
                {"mark": {"type": "text", "fontSize": 9.5, "fontWeight": "bold"}, "encoding": {"text": {"field": "chart"}, "y": {"value": 9.5}}},
                {"mark": {"type": "rule", "color": "#d9d9d9", "strokeWidth": 2}, "encoding": {"x": {"value": 1}, "x2": {"value": 255}, "y": {"value": 17.5}}},
                {"mark": {"type": "text", "fontSize": 7, "align": "left", "text": "Particular:"}, "encoding": {"x": {"value": 8}, "y": {"value": 34}}},
                {"mark": {"type": "text", "fontSize": 7, "text": "Actual"}, "encoding": {"x": {"value": 152}, "y": {"value": 29}}},
                {"mark": {"type": "text", "fontSize": 7, "text": "YTD"}, "encoding": {"x": {"value": 152}, "y": {"value": 40}}},
                {"mark": {"type": "text", "fontSize": 7, "text": "Variance"}, "encoding": {"x": {"value": 195}, "y": {"value": 29}}},
                {"mark": {"type": "text", "fontSize": 7, "text": "Act vs Tar"}, "encoding": {"x": {"value": 195}, "y": {"value": 40}}},
                {"mark": {"type": "text", "fontSize": 7, "text": "Variance"}, "encoding": {"x": {"value": 237}, "y": {"value": 29}}},
                {"mark": {"type": "text", "fontSize": 7, "text": "Act vs LY"}, "encoding": {"x": {"value": 237}, "y": {"value": 40}}},
                {"mark": {"type": "rule", "color": "#404040", "strokeWidth": 0.7}, "encoding": {"x": {"value": 8}, "x2": {"value": 43}, "y": {"value": 38.5}}},
                {"mark": {"type": "rule", "color": "#404040", "strokeWidth": 0.7}, "encoding": {"x": {"value": 146}, "x2": {"value": 158}, "y": {"value": 44}}},
                {"mark": {"type": "rule", "color": "#404040", "strokeWidth": 0.7}, "encoding": {"x": {"value": 180}, "x2": {"value": 210}, "y": {"value": 44}}},
                {"mark": {"type": "rule", "color": "#404040", "strokeWidth": 0.7}, "encoding": {"x": {"value": 224}, "x2": {"value": 250}, "y": {"value": 44}}}
              ]
            },
            {
              "transform": [{"filter": "datum.kind === 'total'"}],
              "mark": {"type": "rule", "color": "#a6a6a6", "yOffset": -8.5},
              "encoding": {
                "x": {"value": 129}, "x2": {"value": 255},
                "y": {"field": "item", "type": "nominal", "scale": {"type": "point", "domain": ["Revenue", "Cost of Goods Sold", "Gross Profit", "Total Operating Expenses", "Operating Profit (EBIT)", "Other Non-Operating Income/(Expense)", "Finance Expense", "Net Profit Before Tax"], "range": [59.3, 179], "padding": 0}}
              }
            },
            {
              "transform": [{"filter": "datum.item === 'Net Profit Before Tax'"}],
              "mark": {"type": "rule", "color": "#a6a6a6", "strokeWidth": 1.5, "yOffset": 8},
              "encoding": {
                "x": {"value": 129}, "x2": {"value": 255},
                "y": {"field": "item", "type": "nominal", "scale": {"type": "point", "domain": ["Revenue", "Cost of Goods Sold", "Gross Profit", "Total Operating Expenses", "Operating Profit (EBIT)", "Other Non-Operating Income/(Expense)", "Finance Expense", "Net Profit Before Tax"], "range": [59.3, 179], "padding": 0}}
              }
            },
            {
              "transform": [{"filter": "datum.kind !== 'total'"}],
              "encoding": {"y": {"field": "item", "type": "nominal", "scale": {"type": "point", "domain": ["Revenue", "Cost of Goods Sold", "Gross Profit", "Total Operating Expenses", "Operating Profit (EBIT)", "Other Non-Operating Income/(Expense)", "Finance Expense", "Net Profit Before Tax"], "range": [59.3, 179], "padding": 0}}},
              "layer": [
                {"mark": {"type": "text", "align": "left", "fontSize": 7, "color": "#595959", "limit": 140, "ellipsis": "\u200b"}, "encoding": {"x": {"value": 8}, "text": {"field": "item", "type": "nominal"}}},
                {"mark": {"type": "text", "align": "right", "fontSize": 7, "color": "#595959"}, "encoding": {"x": {"value": 166}, "text": {"field": "actual", "type": "quantitative", "format": ","}}},
                {"mark": {"type": "text", "align": "right", "fontSize": 7, "text": {"expr": "format(datum.vsTarget, '.1%') + (datum.vsTarget < 0 ? '▼' : '▲')"}}, "encoding": {"x": {"value": 208}, "color": {"condition": {"test": "datum.targetFavourable", "value": "#2f9e46"}, "value": "#e5383b"}}},
                {"mark": {"type": "text", "align": "right", "fontSize": 7, "text": {"expr": "format(datum.vsLastYear, '.1%') + (datum.vsLastYear < 0 ? '▼' : '▲')"}}, "encoding": {"x": {"value": 253}, "color": {"condition": {"test": "datum.lastYearFavourable", "value": "#2f9e46"}, "value": "#e5383b"}}}
              ]
            },
            {
              "transform": [{"filter": "datum.kind === 'total'"}],
              "encoding": {"y": {"field": "item", "type": "nominal", "scale": {"type": "point", "domain": ["Revenue", "Cost of Goods Sold", "Gross Profit", "Total Operating Expenses", "Operating Profit (EBIT)", "Other Non-Operating Income/(Expense)", "Finance Expense", "Net Profit Before Tax"], "range": [59.3, 179], "padding": 0}}},
              "layer": [
                {"mark": {"type": "text", "align": "left", "fontSize": 7, "fontWeight": "bold", "color": "#262626"}, "encoding": {"x": {"value": 8}, "text": {"field": "item", "type": "nominal"}}},
                {"mark": {"type": "text", "align": "right", "fontSize": 7, "fontWeight": "bold", "color": "#262626"}, "encoding": {"x": {"value": 166}, "text": {"field": "actual", "type": "quantitative", "format": ","}}},
                {"mark": {"type": "text", "align": "right", "fontSize": 7, "fontWeight": "bold", "text": {"expr": "format(datum.vsTarget, '.1%') + (datum.vsTarget < 0 ? '▼' : '▲')"}}, "encoding": {"x": {"value": 208}, "color": {"condition": {"test": "datum.targetFavourable", "value": "#2f9e46"}, "value": "#e5383b"}}},
                {"mark": {"type": "text", "align": "right", "fontSize": 7, "fontWeight": "bold", "text": {"expr": "format(datum.vsLastYear, '.1%') + (datum.vsLastYear < 0 ? '▼' : '▲')"}}, "encoding": {"x": {"value": 253}, "color": {"condition": {"test": "datum.lastYearFavourable", "value": "#2f9e46"}, "value": "#e5383b"}}}
              ]
            }
          ]
        }
      ]
    }
  ]
}
